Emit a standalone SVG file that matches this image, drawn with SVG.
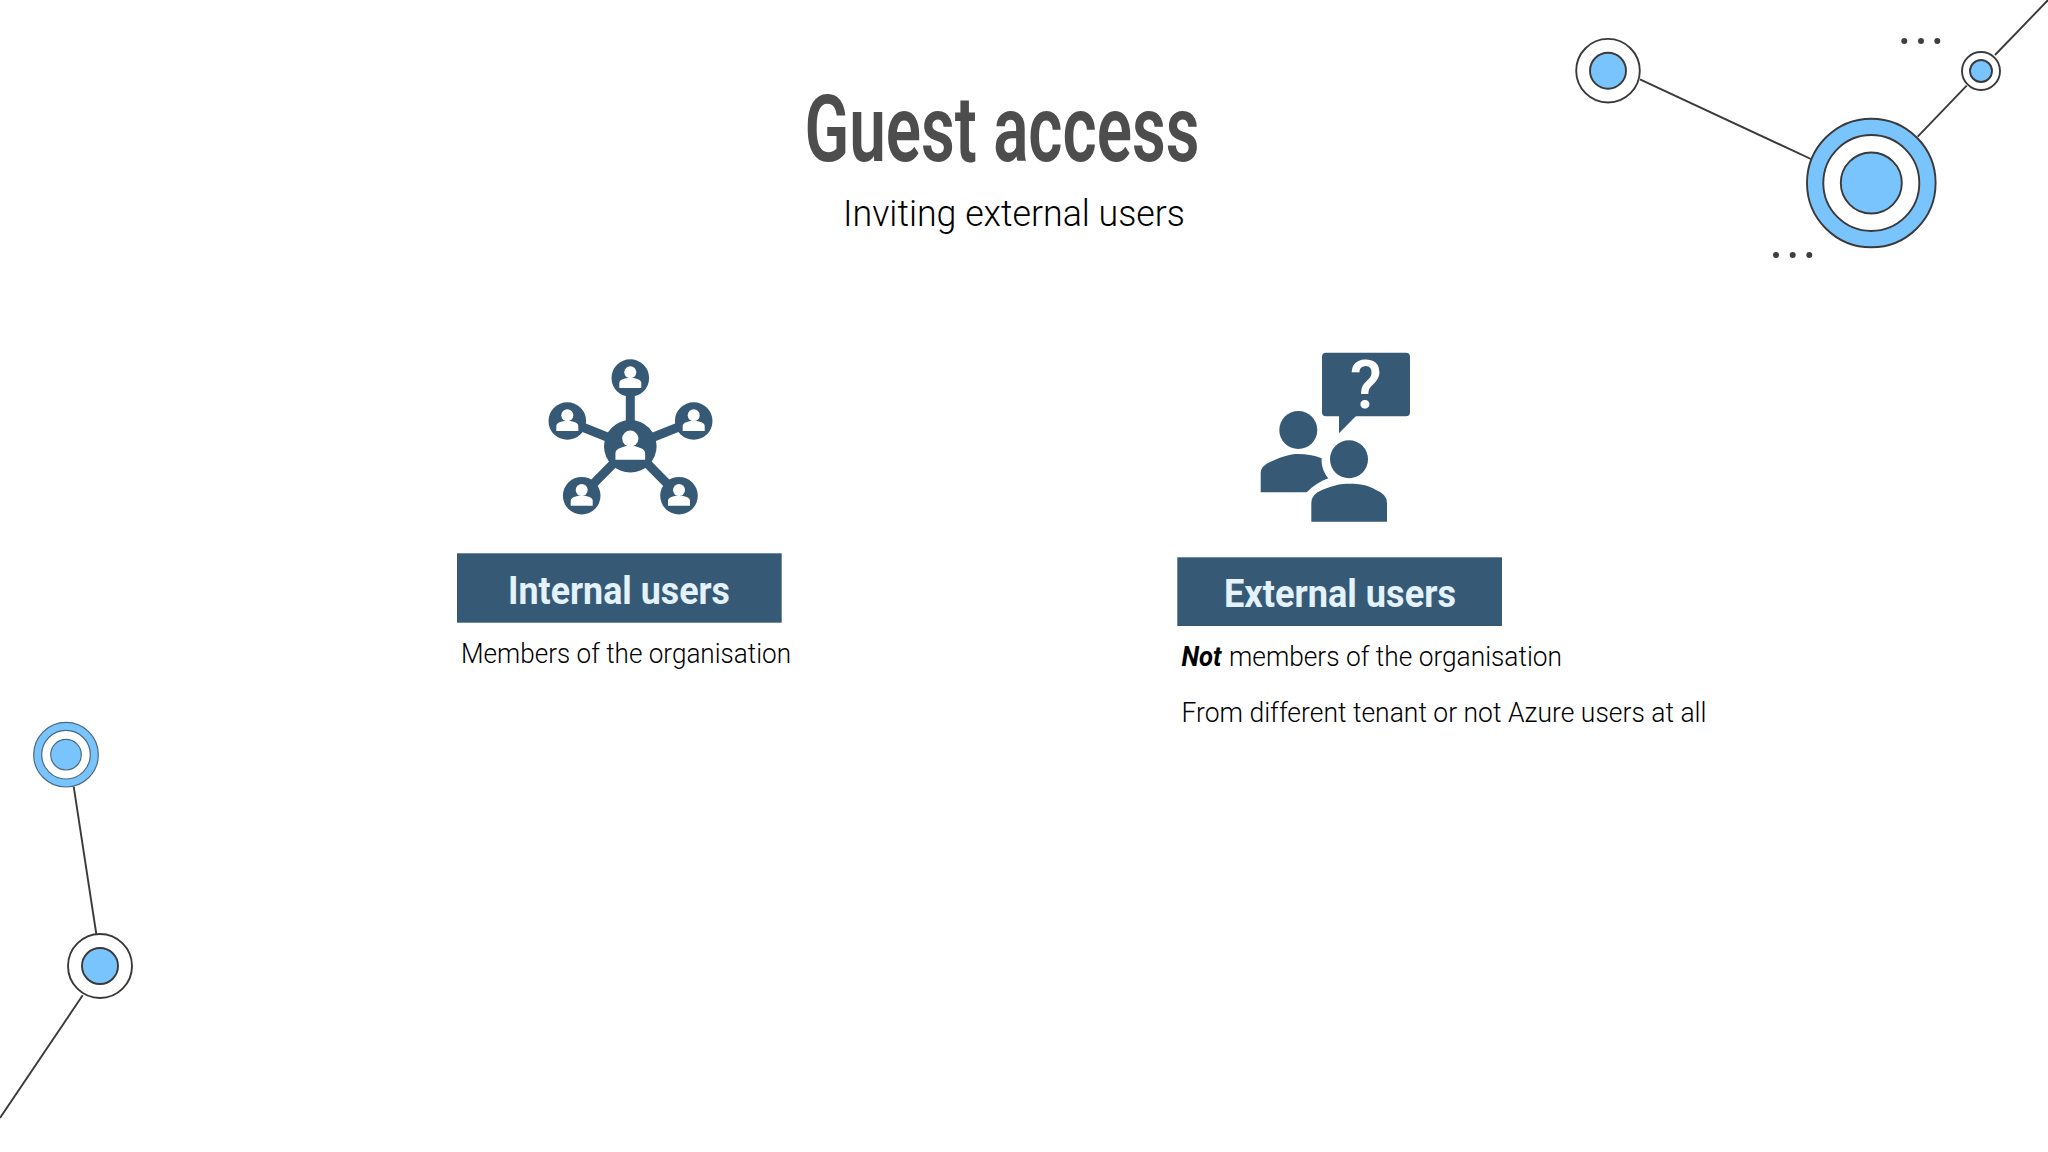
<svg xmlns="http://www.w3.org/2000/svg" xmlns:xlink="http://www.w3.org/1999/xlink" width="2048" height="1152" viewBox="0 0 2048 1152">
<style>
.wire{stroke:#3a3a3a;stroke-width:1.900;fill:none}
.ring{stroke:#3a3a3a;stroke-width:1.900}
.blue{fill:#7ac4fd}
.white{fill:#fff}
.dot{fill:#3f3f3f}
.dark{fill:#365a75}
.spoke{stroke:#365a75;stroke-width:9;fill:none}
.t{font-family:Roboto,"Liberation Sans",sans-serif}
.title{font-size:92px;font-weight:600;fill:#4d4d4d}
.sub{font-size:36px;font-weight:300;fill:#000}
.head{font-size:38px;font-weight:700;fill:#e3f2fd}
.body{font-size:27.500px;font-weight:300;fill:#000}
</style>
<defs>
<g id="user"><circle cx="0" cy="-5.700" r="6" fill="#fff"/><path fill="#fff" d="M-11 10V5Q-11 2.300-7 1Q-3-.5 0-.5Q3-.5 7 1Q11 2.300 11 5V10Z"/></g>
</defs>
<rect width="2048" height="1152" fill="#fff"/>
<g id="connectors">
<line class="wire" x1="1640" y1="79.300" x2="1812" y2="159.500"/>
<line class="wire" x1="1917.700" y1="136.700" x2="1966.700" y2="85.700"/>
<line class="wire" x1="1995" y1="55" x2="2049" y2="-1"/>
<line class="wire" x1="73.700" y1="786.700" x2="96.300" y2="934"/>
<line class="wire" x1="82.700" y1="995.300" x2="0" y2="1118"/>
</g>
<g id="node-top-left"><circle class="ring white" cx="1608" cy="70.700" r="31.800"/><circle class="ring blue" cx="1608" cy="70.700" r="18"/></g>
<g id="node-top-big"><circle class="ring blue" cx="1871.300" cy="183" r="64.300"/><circle class="ring white" cx="1871.300" cy="183" r="48"/><circle class="ring blue" cx="1871.300" cy="183" r="30.500"/></g>
<g id="node-top-small"><circle class="ring white" cx="1981" cy="71" r="19"/><circle class="ring blue" cx="1981" cy="71" r="11"/></g>
<g id="node-left-upper"><circle class="blue" cx="66" cy="754.700" r="32.300" stroke="#4a6a80" stroke-width="1.200"/><circle class="white" cx="66" cy="754.700" r="24.300" stroke="#4a6a80" stroke-width="1.200"/><circle class="blue" cx="66" cy="754.700" r="15.300" stroke="#4a6a80" stroke-width="1.200"/></g>
<g id="node-left-lower"><circle class="ring white" cx="100" cy="966" r="32"/><circle class="ring blue" cx="100" cy="966" r="18"/></g>
<g id="dots-top"><circle class="dot" cx="1904.300" cy="41" r="3"/><circle class="dot" cx="1921" cy="41" r="3"/><circle class="dot" cx="1937.300" cy="41" r="3"/></g>
<g id="dots-bottom"><circle class="dot" cx="1776" cy="255" r="3"/><circle class="dot" cx="1792.700" cy="255" r="3"/><circle class="dot" cx="1809.300" cy="255" r="3"/></g>
<g id="title">
<text class="t title" x="804.500" y="160.700" textLength="395" lengthAdjust="spacingAndGlyphs">Guest access</text>
<text class="t sub" x="843" y="225.700" textLength="342" lengthAdjust="spacingAndGlyphs">Inviting external users</text>
</g>
<g id="icon-internal">
<path class="spoke" d="M630.300 378V446.300M567.300 421L630.300 446.300L693.700 421M581.700 495.700L630.300 446.300L679 495.700"/>
<circle class="dark" cx="630.300" cy="446.300" r="26.300"/>
<circle class="dark" cx="630.300" cy="378" r="18.800"/>
<circle class="dark" cx="567.300" cy="421" r="18.800"/>
<circle class="dark" cx="693.700" cy="421" r="18.800"/>
<circle class="dark" cx="581.700" cy="495.700" r="18.800"/>
<circle class="dark" cx="679" cy="495.700" r="18.800"/>
<use xlink:href="#user" href="#user" x="630.300" y="378"/>
<use xlink:href="#user" href="#user" x="567.300" y="421"/>
<use xlink:href="#user" href="#user" x="693.700" y="421"/>
<use xlink:href="#user" href="#user" x="581.700" y="495.700"/>
<use xlink:href="#user" href="#user" x="679" y="495.700"/>
<use xlink:href="#user" href="#user" transform="translate(630.300 446.300) scale(1.350)"/>
</g>
<g id="node-internal">
<rect class="dark" x="457" y="553.300" width="324.700" height="69.400"/>
<text class="t head" x="508" y="604" textLength="222" lengthAdjust="spacingAndGlyphs">Internal users</text>
<text class="t body" x="461" y="662.700" textLength="330" lengthAdjust="spacingAndGlyphs">Members of the organisation</text>
</g>
<g id="icon-external">
<rect class="dark" x="1322" y="352.700" width="88" height="63.600" rx="4"/>
<path class="dark" d="M1339 414V433.300L1358 414Z"/>
<text class="t" x="1365.700" y="408.300" font-size="66" font-weight="500" fill="#fff" text-anchor="middle">?</text>
<circle class="dark" cx="1298.300" cy="430" r="19"/>
<path class="dark" d="M1260.700 492.300V473Q1260.700 466 1270 462C1285 455 1292 454 1298 454C1306 454 1314 455 1321.700 458.300C1321 466 1324 473 1328.300 478.300C1320 481 1313 486 1306.700 492.300Z"/>
<circle class="dark" cx="1349" cy="459.300" r="19"/>
<path class="dark" d="M1311.300 521.700V503Q1311.300 494 1322 490C1335 484.500 1342 483.700 1349 483.700C1360 483.700 1368 485 1376 490Q1387 494 1387 503V521.700Z"/>
</g>
<g id="node-external">
<rect class="dark" x="1177.300" y="557.300" width="324.700" height="68.700"/>
<text class="t head" x="1224" y="606.700" textLength="232" lengthAdjust="spacingAndGlyphs">External users</text>
<text class="t body" y="665.700"><tspan x="1181.500" font-weight="700" font-style="italic" textLength="40" lengthAdjust="spacingAndGlyphs">Not</tspan> <tspan x="1229" textLength="333" lengthAdjust="spacingAndGlyphs">members of the organisation</tspan></text>
<text class="t body" x="1181.500" y="721.500" textLength="525" lengthAdjust="spacingAndGlyphs">From different tenant or not Azure users at all</text>
</g>
</svg>
